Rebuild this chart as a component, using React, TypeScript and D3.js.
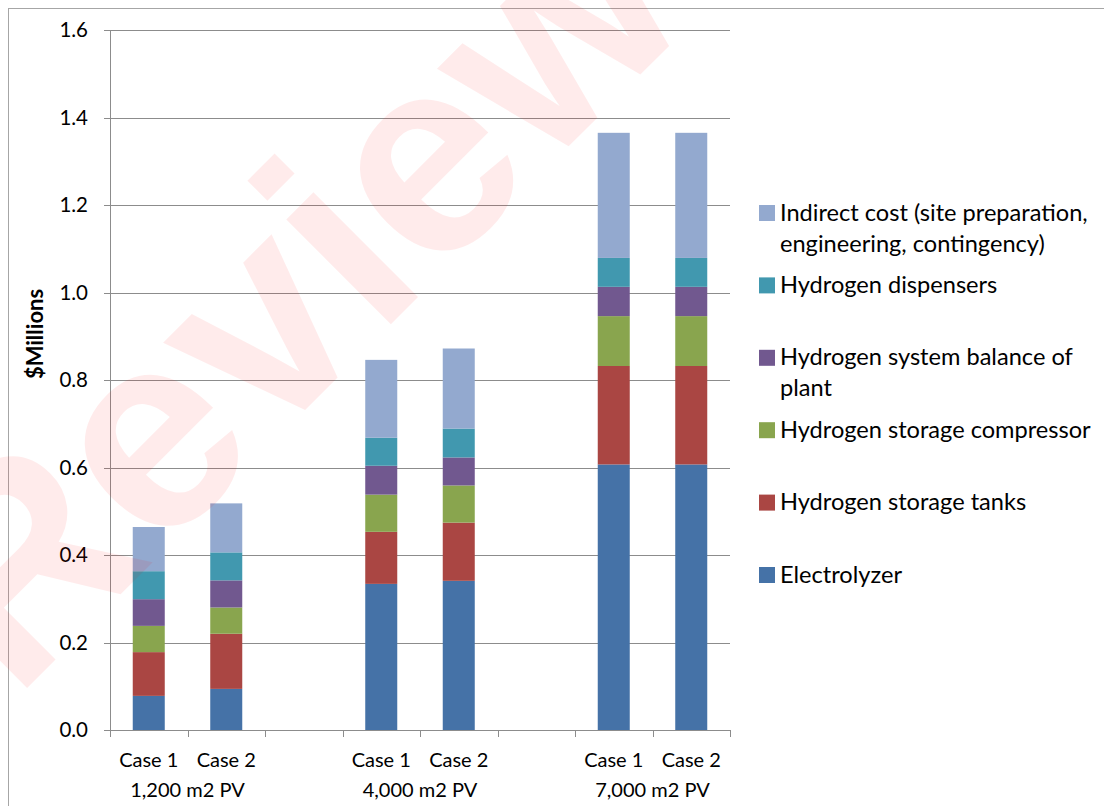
import React from "react";
import * as d3 from "d3";

const groups = ["1,200 m2 PV", "4,000 m2 PV", "7,000 m2 PV"];
const cases = ["Case 1", "Case 2"];
const seriesNames = [
  "Electrolyzer",
  "Hydrogen storage tanks",
  "Hydrogen storage compressor",
  "Hydrogen system balance of plant",
  "Hydrogen dispensers",
  "Indirect cost (site preparation, engineering, contingency)",
];
// values per bar: 1,200 C1, 1,200 C2, 4,000 C1, 4,000 C2, 7,000 C1, 7,000 C2 ($ millions)
const electrolyzer = [0.078, 0.094, 0.334, 0.341, 0.607, 0.607];
const storageTanks = [0.1, 0.126, 0.119, 0.133, 0.225, 0.225];
const storageCompressor = [0.06, 0.06, 0.085, 0.085, 0.114, 0.114];
const balanceOfPlant = [0.061, 0.062, 0.066, 0.064, 0.067, 0.067];
const dispensers = [0.064, 0.064, 0.064, 0.066, 0.066, 0.066];
const indirectCost = [0.101, 0.112, 0.178, 0.183, 0.286, 0.286];
const yTicks = [0, 0.2, 0.4, 0.6, 0.8, 1.0, 1.2, 1.4, 1.6];
const yTitle = "$Millions";
const watermark = "Review";

const seriesValues = [electrolyzer, storageTanks, storageCompressor, balanceOfPlant, dispensers, indirectCost];
const colors = ["#4572A7", "#AA4643", "#89A54E", "#71588F", "#4198AF", "#93A9CF"];
const legendWrap: Record<string, string[]> = {
  "Indirect cost (site preparation, engineering, contingency)": ["Indirect cost (site preparation,", "engineering, contingency)"],
  "Hydrogen system balance of plant": ["Hydrogen system balance of", "plant"],
};

const FONT = "Lato, Carlito, 'Liberation Sans', sans-serif";

export default function App() {
  const W = 1104;
  const H = 806;
  const left = 110, right = 730, top = 30, bottom = 730;

  const y = d3.scaleLinear().domain([0, 1.6]).range([bottom, top]);

  const slots: string[] = [];
  groups.forEach((g, gi) => {
    cases.forEach((c) => slots.push(`${g}|${c}`));
    if (gi < groups.length - 1) slots.push(`gap${gi}`);
  });
  const p = 0.587;
  const x = d3.scaleBand<string>().domain(slots).range([left, right]).paddingInner(p).paddingOuter(p / 2);
  const step = x.step();

  const rows = groups.flatMap((g, gi) =>
    cases.map((c, ci) => {
      const i = gi * cases.length + ci;
      const r: any = { key: `${g}|${c}`, group: g, caseName: c };
      seriesNames.forEach((s, si) => (r[s] = seriesValues[si][i]));
      return r;
    })
  );
  const stacked = d3.stack<any>().keys(seriesNames)(rows);

  const legendY = d3.scalePoint<string>().domain([...seriesNames].reverse()).range([213, 575]);

  const boundaries = d3.range(slots.length + 1).map((i) => left + i * step);

  return (
    <svg
      width={W}
      height={H}
      style={{ position: "absolute", left: 0, top: 0, background: "#fff" }}
      fontFamily={FONT}
    >
      <rect x={0} y={0} width={W} height={H} fill="#fff" />
      <rect x={8.5} y={8.5} width={1100} height={800} fill="none" stroke="#a6a6a6" strokeWidth={1} />

      {/* gridlines + y ticks */}
      {yTicks.map((t) => (
        <g key={t}>
          <line x1={104} x2={right} y1={Math.round(y(t)) + 0.5} y2={Math.round(y(t)) + 0.5} stroke="#8c8c8c" strokeWidth={1} />
          <text x={88} y={y(t)} dy="0.36em" textAnchor="end" fontSize={20.5} fill="#000">
            {t.toFixed(1)}
          </text>
        </g>
      ))}
      {/* y axis */}
      <line x1={left + 0.5} x2={left + 0.5} y1={top} y2={bottom + 7} stroke="#8c8c8c" />
      {/* x ticks */}
      {boundaries.map((bx, i) => (
        <line key={i} x1={Math.round(bx) + 0.5} x2={Math.round(bx) + 0.5} y1={bottom} y2={bottom + 7} stroke="#8c8c8c" />
      ))}

      {/* bars */}
      {stacked.map((layer, si) => (
        <g key={layer.key} fill={colors[si]}>
          {layer.map((d, i) => (
            <rect
              key={i}
              x={x(rows[i].key)}
              width={x.bandwidth()}
              y={y(d[1])}
              height={y(d[0]) - y(d[1])}
            />
          ))}
        </g>
      ))}

      {/* category labels */}
      {rows.map((r) => (
        <text key={r.key} x={(x(r.key) as number) + x.bandwidth() / 2} y={767} textAnchor="middle" fontSize={20} fill="#000">
          {r.caseName}
        </text>
      ))}
      {groups.map((g) => {
        const cx = d3.mean(cases, (c) => (x(`${g}|${c}`) as number) + x.bandwidth() / 2) as number;
        return (
          <text key={g} x={cx} y={797} textAnchor="middle" fontSize={20} fill="#000">
            {g}
          </text>
        );
      })}

      {/* y title */}
      <text transform={`translate(43,334) rotate(-90)`} textAnchor="middle" fontSize={22} fontWeight="bold" fill="#000">
        {yTitle}
      </text>

      {/* legend */}
      {seriesNames.map((s, si) => {
        const cy = legendY(s) as number;
        const lines = legendWrap[s] || [s];
        return (
          <g key={s}>
            <rect x={759} y={cy - 8} width={16} height={16} fill={colors[si]} />
            {lines.map((ln, li) => (
              <text key={li} x={780} y={cy + 7.5 + li * 31} fontSize={23.6} fill="#000">
                {ln}
              </text>
            ))}
          </g>
        );
      })}

      {/* watermark */}
      <text
        transform="translate(355,360) rotate(-45)"
        textAnchor="middle"
        fontFamily="'Liberation Sans', Arial, sans-serif"
        fontWeight="bold"
        fontSize={280}
        fill="rgb(255,0,0)"
        fillOpacity={0.08}
      >
        {watermark}
      </text>
    </svg>
  );
}
